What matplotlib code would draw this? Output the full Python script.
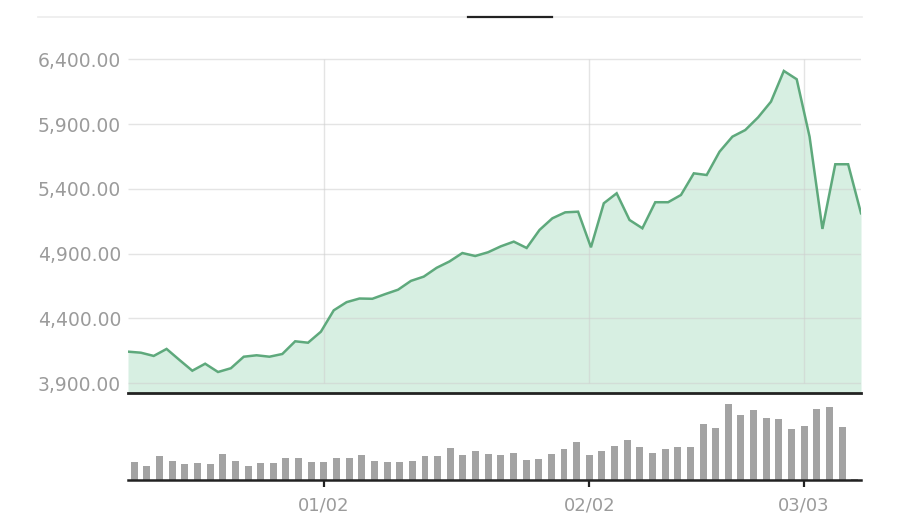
import matplotlib
matplotlib.use("Agg")
import matplotlib.pyplot as plt
from matplotlib.lines import Line2D
import numpy as np

# ---- data ----
price = [4144, 4136, 4111, 4165, 4080, 3997, 4051, 3987, 4016, 4105,
         4116, 4105, 4126, 4224, 4213, 4298, 4463, 4526, 4554, 4552,
         4588, 4622, 4690, 4723, 4791, 4840, 4905, 4882, 4911, 4957,
         4993, 4944, 5083, 5173, 5219, 5224, 4949, 5289, 5366, 5160,
         5096, 5297, 5297, 5353, 5520, 5507, 5687, 5803, 5854, 5952,
         6073, 6310, 6246, 5803, 5091, 5590, 5590, 5212]
volume = [53, 43, 71, 57, 47, 50, 47, 77, 57, 43,
          50, 50, 67, 67, 53, 53, 67, 67, 74, 57,
          53, 53, 57, 71, 71, 95, 74, 88, 78, 74,
          81, 60, 64, 77, 92, 113, 74, 88, 102, 120,
          99, 81, 92, 99, 99, 168, 155, 228, 194, 211,
          186, 183, 152, 162, 214, 218, 158, 3]
tick_idx = [15, 36, 53]
tick_labels = ["01/02", "02/02", "03/03"]
y_ticks = [3900, 4400, 4900, 5400, 5900, 6400]
y_tick_labels = ["3,900.00", "4,400.00", "4,900.00", "5,400.00", "5,900.00", "6,400.00"]

# ---- styling ----
LINE = "#5ea97c"
FILL = "#d7efe2"
GRID = "#cfcfcf"
TXT = "#9b9b9b"
BAR = "#a3a3a3"
DARK = "#222222"

plt.rcParams["font.family"] = ["DejaVu Sans"]

fig = plt.figure(figsize=(9, 5.2), dpi=100)
W, H = 900.0, 520.0

def rect(x0, y0, x1, y1):
    return [x0 / W, 1 - y1 / H, (x1 - x0) / W, (y1 - y0) / H]

n = len(price)
xlo, xhi = -0.5, n - 0.5

# price axes
ax = fig.add_axes(rect(128, 55, 861, 393))
xs = np.linspace(xlo, xhi, n)
ylo, yhi = 3825, 6433
ax.fill_between(xs, price, ylo - 100, color=FILL, lw=0, zorder=1)
ax.hlines(y_ticks, xlo, xhi, colors=GRID, lw=1, zorder=2, alpha=0.55)
ax.vlines(tick_idx, y_ticks[0], y_ticks[-1], colors=GRID, lw=1, zorder=2, alpha=0.55)
ax.plot(xs, price, color=LINE, lw=1.8, zorder=3, solid_joinstyle="miter")
ax.set_xlim(xlo, xhi)
ax.set_ylim(ylo, yhi)
ax.set_yticks(y_ticks)
ax.set_yticklabels(y_tick_labels)
ax.set_xticks([])
ax.tick_params(axis="y", length=0, pad=5, labelsize=13.5, labelcolor=TXT)
for s in ["top", "right", "left"]:
    ax.spines[s].set_visible(False)
ax.spines["bottom"].set_color(DARK)
ax.spines["bottom"].set_linewidth(2)
ax.spines["bottom"].set_zorder(5)

# volume axes
av = fig.add_axes(rect(128, 400, 861, 480))
av.bar(np.arange(n), volume, width=0.55, color=BAR, zorder=2)
av.set_xlim(xlo, xhi)
av.set_ylim(0, 240)
av.set_yticks([])
av.set_xticks(tick_idx)
av.set_xticklabels(tick_labels)
av.tick_params(axis="x", length=5, width=1.6, color=DARK, pad=7,
               labelsize=13, labelcolor=TXT)
for s in ["top", "right", "left"]:
    av.spines[s].set_visible(False)
av.spines["bottom"].set_color(DARK)
av.spines["bottom"].set_linewidth(1.8)

# header rule with active tab indicator
fig.add_artist(Line2D([38 / W, 862 / W], [1 - 17 / H, 1 - 17 / H],
                      color="#ececec", lw=1.2))
fig.add_artist(Line2D([468 / W, 552 / W], [1 - 17 / H, 1 - 17 / H],
                      color=DARK, lw=1.6))

fig.savefig("out.png", dpi=100)
